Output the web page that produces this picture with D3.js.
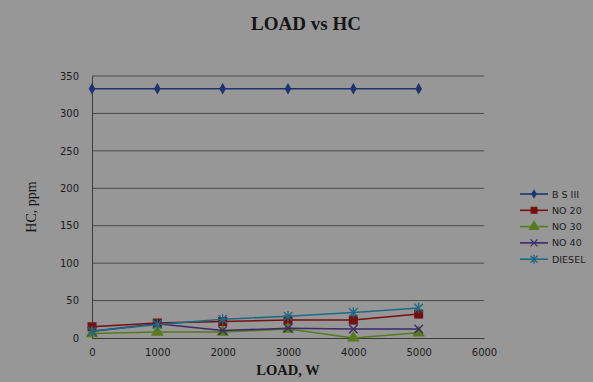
<!DOCTYPE html>
<html>
<head>
<meta charset="utf-8">
<script src="https://cdn.jsdelivr.net/npm/d3@7"></script>
<style>
  body { margin: 0; background: #979797; }
  svg { display: block; }
</style>
</head>
<body>
<div id="chart"></div>
<script>
// chart data
const loads = [0, 1000, 2000, 3000, 4000, 5000];
const seriesNames = ["B S III", "NO 20", "NO 30", "NO 40", "DIESEL"];
const bs3 = [333, 333, 333, 333, 333, 333];
const no20 = [15, 20, 22, 24, 24, 32];
const no30 = [6, 8, 8, 12, 0, 7];
const no40 = [9, 19, 10, 13, 12, 12];
const diesel = [9, 18, 25, 29, 34, 40];
const xTicks = [0, 1000, 2000, 3000, 4000, 5000, 6000];
const yTicks = [0, 50, 100, 150, 200, 250, 300, 350];

const colors = ["#1d3370", "#74100f", "#587a1e", "#3e2868", "#1e6a82"];
const symbols = ["diamond", "square", "triangle", "cross", "asterisk"];
const allValues = [bs3, no20, no30, no40, diesel];

const w = 593;
const h = 382;
const svg = d3
  .select("#chart")
  .append("svg")
  .attr("width", w)
  .attr("height", h);

svg.append("rect").attr("width", w).attr("height", h).attr("fill", "#979797");

const x = d3.scaleLinear().domain([0, 6000]).range([92, 484]);
const y = d3.scaleLinear().domain([0, 350]).range([338, 76]);

// title
svg
  .append("text")
  .attr("x", 306)
  .attr("y", 30)
  .attr("text-anchor", "middle")
  .style("font-family", "Liberation Serif, Times New Roman, serif")
  .style("font-weight", "bold")
  .style("font-size", "19px")
  .style("fill", "#151515")
  .text("LOAD vs HC");

// gridlines
svg
  .append("g")
  .selectAll("line")
  .data(yTicks.filter((d) => d > 0))
  .join("line")
  .attr("x1", x(0))
  .attr("x2", x(6000))
  .attr("y1", (d) => y(d))
  .attr("y2", (d) => y(d))
  .attr("stroke", "#4a4a4a")
  .attr("stroke-width", 1);

// axes
const xAxis = svg
  .append("g")
  .attr("transform", `translate(0,${y(0)})`)
  .call(d3.axisBottom(x).tickValues(xTicks).tickSize(0).tickPadding(11).tickFormat(d3.format("d")));
const yAxis = svg
  .append("g")
  .attr("transform", `translate(${x(0)},0)`)
  .call(d3.axisLeft(y).tickValues(yTicks).tickSize(0).tickPadding(13));

[xAxis, yAxis].forEach((a) => {
  a.select(".domain").attr("stroke", "#3a3a3a").attr("stroke-width", 1);
  a.selectAll("text")
    .style("font-family", "DejaVu Sans, Verdana, sans-serif")
    .style("font-size", "10px")
    .style("fill", "#1c1c1c");
});

// axis titles
svg
  .append("text")
  .attr("x", 288)
  .attr("y", 375)
  .attr("text-anchor", "middle")
  .style("font-family", "Liberation Serif, Times New Roman, serif")
  .style("font-weight", "bold")
  .style("font-size", "14.5px")
  .style("fill", "#151515")
  .text("LOAD, W");

svg
  .append("text")
  .attr("transform", "translate(36,207) rotate(-90)")
  .attr("text-anchor", "middle")
  .style("font-family", "Liberation Serif, Times New Roman, serif")
  .style("font-size", "14px")
  .style("fill", "#151515")
  .text("HC, ppm");

// marker drawing
function drawMarker(g, type, color, size) {
  if (type === "diamond") {
    g.append("path").attr("d", d3.symbol(d3.symbolDiamond, size * 4.5)()).attr("fill", color);
  } else if (type === "square") {
    g.append("rect")
      .attr("x", -size / 2).attr("y", -size / 2)
      .attr("width", size).attr("height", size)
      .attr("fill", color);
  } else if (type === "triangle") {
    g.append("path").attr("d", d3.symbol(d3.symbolTriangle, size * 8)()).attr("fill", color);
  } else if (type === "cross") {
    const s = size / 2;
    g.append("path")
      .attr("d", `M${-s},${-s}L${s},${s}M${-s},${s}L${s},${-s}`)
      .attr("stroke", color).attr("stroke-width", 1.3);
  } else {
    const s = size / 2;
    g.append("path")
      .attr("d", `M${-s},${-s}L${s},${s}M${-s},${s}L${s},${-s}M0,${-s - 1}L0,${s + 1}`)
      .attr("stroke", color).attr("stroke-width", 1.3);
  }
}

const line = d3
  .line()
  .x((d, i) => x(loads[i]))
  .y((d) => y(d));

// series
allValues.forEach((vals, k) => {
  const g = svg.append("g");
  g.append("path")
    .attr("d", line(vals))
    .attr("fill", "none")
    .attr("stroke", colors[k])
    .attr("stroke-width", 1.6);
  vals.forEach((v, i) => {
    const m = g.append("g").attr("transform", `translate(${x(loads[i])},${y(v)})`);
    drawMarker(m, symbols[k], colors[k], k === 1 ? 9 : 8.5);
  });
});

// legend
const legend = svg.append("g").attr("transform", "translate(520,194)");
seriesNames.forEach((name, k) => {
  const row = legend.append("g").attr("transform", `translate(0,${k * 16.3})`);
  row.append("line")
    .attr("x1", 0).attr("x2", 28)
    .attr("stroke", colors[k]).attr("stroke-width", 1.6);
  const m = row.append("g").attr("transform", "translate(14,0)");
  drawMarker(m, symbols[k], colors[k], k === 0 ? 6 : 7);
  row.append("text")
    .attr("x", 32)
    .attr("y", 3.5)
    .style("font-family", "DejaVu Sans, Verdana, sans-serif")
    .style("font-size", "9.5px")
    .style("fill", "#1c1c1c")
    .text(name);
});
</script>
</body>
</html>
